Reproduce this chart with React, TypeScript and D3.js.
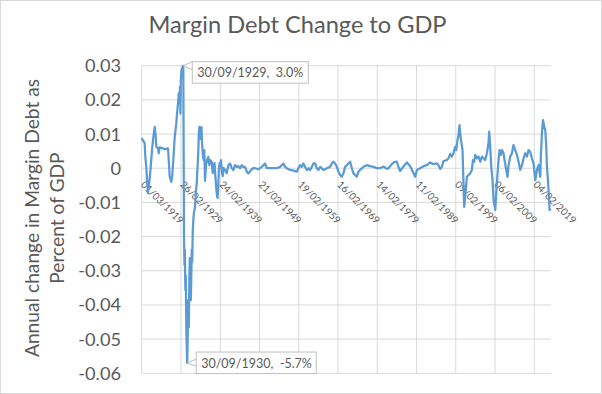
import React from "react";
import * as d3 from "d3";

const title = "Margin Debt Change to GDP";
const yTitleLines = ["Annual change in Margin Debt as", "Percent of GDP"];

// decimal years and annual change values (share of GDP)
const years = [
  1919.16, 1919.92, 1920.08, 1920.33, 1920.51, 1920.76, 1921.02, 1921.4, 1921.78, 1922.04,
  1922.47, 1922.73, 1922.88, 1923.31, 1923.49, 1923.74, 1924.33, 1925.09, 1925.86, 1926.04,
  1926.29, 1926.7, 1926.95, 1927.21, 1927.57, 1927.97, 1928.23, 1928.41, 1928.58, 1928.74,
  1928.92, 1929.02, 1929.12, 1929.3, 1929.5, 1929.745, 1929.83, 1929.93, 1930.04, 1930.14,
  1930.27, 1930.39, 1930.52, 1930.745, 1930.9, 1931.03, 1931.16, 1931.28, 1931.41, 1931.54,
  1931.67, 1931.77, 1931.9, 1932.02, 1932.15, 1932.3, 1932.48, 1932.74, 1932.99, 1933.17,
  1933.37, 1933.55, 1933.72, 1933.85, 1934.02, 1934.2, 1934.38, 1934.55, 1934.75, 1934.95,
  1935.1, 1935.28, 1935.54, 1935.79, 1936.12, 1936.38, 1936.56, 1936.99, 1937.24, 1937.45,
  1937.7, 1937.91, 1938.14, 1938.34, 1938.49, 1938.65, 1938.8, 1938.98, 1939.18, 1939.36,
  1939.56, 1939.79, 1940.0, 1940.38, 1940.81, 1941.22, 1941.65, 1942.08, 1942.49, 1942.92,
  1943.36, 1943.77, 1944.2, 1944.63, 1945.04, 1945.47, 1945.9, 1946.31, 1946.74, 1947.18,
  1947.59, 1948.02, 1948.86, 1949.73, 1950.13, 1950.57, 1951.0, 1951.84, 1952.68, 1953.55,
  1954.39, 1954.82, 1955.23, 1955.66, 1956.09, 1956.93, 1957.77, 1958.64, 1959.05, 1959.48,
  1959.91, 1960.32, 1960.75, 1961.19, 1961.59, 1962.03, 1962.46, 1962.87, 1963.3, 1963.73,
  1964.14, 1964.57, 1965.01, 1965.42, 1966.28, 1967.12, 1967.55, 1967.96, 1968.4, 1968.83,
  1969.24, 1969.67, 1970.1, 1970.51, 1970.94, 1971.78, 1972.22, 1972.65, 1973.06, 1973.49,
  1973.92, 1974.33, 1974.76, 1975.6, 1976.47, 1977.31, 1978.15, 1979.02, 1979.86, 1980.7,
  1981.56, 1981.97, 1982.84, 1983.42, 1984.11, 1984.52, 1984.95, 1985.79, 1986.66, 1987.5,
  1988.34, 1988.77, 1989.21, 1990.05, 1990.89, 1991.75, 1992.59, 1993.43, 1994.3, 1994.71,
  1995.14, 1995.57, 1995.98, 1996.85, 1997.25, 1997.69, 1998.12, 1998.53, 1998.96, 1999.22,
  1999.55, 1999.8, 2000.06, 2000.23, 2000.49, 2000.82, 2001.07, 2001.25, 2001.51, 2001.94,
  2002.35, 2002.78, 2003.21, 2003.47, 2003.8, 2004.06, 2004.49, 2004.9, 2005.33, 2005.76,
  2006.17, 2006.6, 2007.03, 2007.44, 2007.62, 2007.88, 2008.13, 2008.46, 2008.72, 2009.15,
  2009.4, 2009.74, 2009.99, 2010.25, 2010.6, 2010.86, 2011.26, 2011.52, 2011.95, 2012.28,
  2012.54, 2012.97, 2013.4, 2013.81, 2014.24, 2014.68, 2015.08, 2015.52, 2015.95, 2016.36,
  2016.79, 2017.22, 2017.63, 2018.06, 2018.5, 2018.9, 2019.34, 2019.77, 2020.18, 2020.61,
  2020.79, 2021.04, 2021.3, 2021.63, 2021.89, 2022.14, 2022.32, 2022.57, 2022.73, 2022.98,
  2023.3,
];

const values = [
  0.0088, 0.0073, 0.0034, 0.0004, -0.0035, -0.0073, -0.0049, -0.0005, 0.0053, 0.0083,
  0.0121, 0.0092, 0.0063, 0.0058, 0.0044, 0.0061, 0.0059, 0.0056, 0.0058, 0.0024,
  -0.0025, -0.004, -0.002, 0.0024, 0.0092, 0.0131, 0.017, 0.019, 0.0219, 0.02,
  0.0238, 0.016, 0.0258, 0.0287, 0.0293, 0.03, 0.0083, -0.0204, -0.0283, -0.0239,
  -0.0356, -0.0315, -0.0473, -0.057, -0.0473, -0.0386, -0.0465, -0.0327, -0.0263, -0.0312,
  -0.0386, -0.0327, -0.0239, -0.0274, -0.0187, -0.0152, -0.0128, -0.0114, -0.0064, -0.0043,
  0.0001, 0.0045, 0.0105, 0.0121, 0.009, 0.0085, 0.012, 0.0068, 0.0033, 0.0024,
  0.0053, -0.0037, 0.0009, 0.0024, 0.0033, 0.0009, 0.0024, 0.0018, -0.0014, 0.0009,
  0.0015, -0.0023, -0.0058, -0.0081, -0.0087, -0.0049, -0.0005, 0.0015, 0.0006, 0.0024,
  -0.0011, -0.0023, 0.0001, -0.0005, -0.0015, 0.0009, 0.0014, 0.0, -0.0005, 0.0009,
  0.0004, 0.0006, 0.0, 0.0009, 0.0004, 0.0004, -0.001, -0.0015, -0.001, -0.0003,
  0.0, 0.0, -0.0003, 0.0004, 0.0009, 0.0014, 0.0, 0.0, 0.0, 0.0,
  0.0004, 0.0009, 0.0014, 0.0004, 0.0, -0.0005, -0.0007, -0.001, 0.0, 0.0009,
  0.0004, 0.0014, 0.0004, -0.0005, 0.0, -0.0005, 0.0004, 0.0014, 0.0014, 0.0,
  -0.0005, 0.0004, 0.0, -0.0005, 0.0, 0.0004, 0.0014, 0.0019, 0.0014, 0.0004,
  -0.001, -0.002, -0.0025, -0.0015, 0.0004, 0.0014, 0.0019, 0.0, -0.0015, -0.002,
  -0.0025, -0.001, -0.0005, 0.0004, 0.0009, 0.0006, 0.0004, 0.0, 0.0, 0.0005,
  -0.0002, 0.0, 0.0012, 0.0018, 0.0019, 0.0004, -0.0008, 0.0005, 0.0017, 0.0006,
  -0.0014, -0.0025, -0.0005, 0.0, 0.0006, 0.0009, 0.0017, 0.0012, 0.0014, 0.0009,
  -0.0002, 0.0004, 0.0021, 0.0024, 0.0029, 0.0042, 0.0034, 0.0044, 0.0063, 0.0053,
  0.0083, 0.0097, 0.0126, 0.0103, 0.0078, 0.0053, -0.0044, -0.0113, -0.0083, -0.0025,
  -0.002, -0.0015, -0.0005, 0.0024, 0.0019, 0.0039, 0.0029, 0.0034, 0.0019, 0.0034,
  0.0029, 0.0024, 0.0044, 0.0073, 0.0107, 0.0063, 0.0005, -0.0035, -0.0093, -0.0122,
  -0.0073, -0.0015, 0.0024, 0.0053, 0.0039, 0.0053, 0.0044, 0.0024, -0.0005, -0.0025,
  0.0009, 0.0034, 0.0044, 0.0068, 0.0053, 0.0039, 0.0019, -0.0005, 0.0009, 0.0029,
  0.0044, 0.0034, 0.0053, 0.0048, 0.0029, 0.0014, -0.0035, -0.0005, 0.0009, -0.0025,
  0.0044, 0.0102, 0.0141, 0.0121, 0.0112, 0.0063, 0.0004, -0.0035, -0.0064, -0.0122,
  -0.012,
];

const xTickDates = [
  "1919-03-01", "1929-02-26", "1939-02-24", "1949-02-21", "1959-02-19", "1969-02-16",
  "1979-02-14", "1989-02-11", "1999-02-09", "2009-02-06", "2019-02-04",
];
const xDomainDates = ["1919-03-01", "2023-05-07"];
const yTicks = [0.03, 0.02, 0.01, 0, -0.01, -0.02, -0.03, -0.04, -0.05, -0.06];
const yTickLabels = ["0.03", "0.02", "0.01", "0", "-0.01", "-0.02", "-0.03", "-0.04", "-0.05", "-0.06"];
const calloutDates = ["1929-09-30", "1930-09-30"];

const W = 602;
const H = 394;
const FONT = "Lato, 'Open Sans', sans-serif";
const TEXT = "#595959";
const GRID = "#d9d9d9";

const parse = d3.utcParse("%Y-%m-%d");
const fmtDate = d3.utcFormat("%d/%m/%Y");
const fmtPct = d3.format(".1%");

function fromYear(y: number): Date {
  const yr = Math.floor(y);
  const s = Date.UTC(yr, 0, 1);
  const e = Date.UTC(yr + 1, 0, 1);
  return new Date(s + (y - yr) * (e - s));
}

export default function App() {
  const left = 141.7, right = 551, top = 65.7, bottom = 373.3;
  const x = d3.scaleUtc().domain(xDomainDates.map((d) => parse(d) as Date)).range([left, right]);
  const y = d3.scaleLinear().domain([-0.06, 0.03]).range([bottom, top]);
  const pts = years.map((yr, i) => ({ d: fromYear(yr), v: values[i] }));
  const line = d3.line<{ d: Date; v: number }>().x((p) => x(p.d)).y((p) => y(p.v));
  const y0 = y(0);

  const callouts = calloutDates.map((cd, k) => {
    const d = parse(cd) as Date;
    const i = d3.minIndex(pts, (p) => Math.abs(+p.d - +d));
    const p = pts[i];
    const text = `${fmtDate(d)},  ${fmtPct(p.v).replace("\u2212", "-")}`;
    return { px: x(p.d), py: y(p.v), text, k };
  });

  return (
    <svg width={W} height={H} style={{ position: "absolute", left: 0, top: 0 }} fontFamily={FONT}>
      <rect x={0.5} y={0.5} width={W - 1} height={H - 1} fill="#fff" stroke={GRID} />
      <text x={297.5} y={33.3} textAnchor="middle" fontSize={23.6} fontWeight={400} fill={TEXT}>
        {title}
      </text>
      {yTicks.map((t) => (
        <line key={"h" + t} x1={left} x2={right} y1={y(t)} y2={y(t)} stroke={GRID} strokeWidth={1} />
      ))}
      {xTickDates.map((t) => {
        const xx = x(parse(t) as Date);
        return <line key={"v" + t} x1={xx} x2={xx} y1={top} y2={bottom} stroke={GRID} strokeWidth={1} />;
      })}
      {yTicks.map((t, i) => (
        <text key={"yl" + t} x={121} y={y(t)} dy="0.36em" textAnchor="end" fontSize={18.2} fill={TEXT}>
          {yTickLabels[i]}
        </text>
      ))}
      {yTitleLines.map((s, i) => (
        <text
          key={s}
          transform={`translate(${38.5 + i * 25.5},218) rotate(-90)`}
          textAnchor="middle"
          fontSize={19.2}
          fill={TEXT}
        >
          {s}
        </text>
      ))}
      {xTickDates.map((t) => {
        const xx = x(parse(t) as Date);
        return (
          <text key={"xl" + t} transform={`translate(${xx - 1.5},${y0 + 17})rotate(45)`} fontSize={10} fill={TEXT}>
            {fmtDate(parse(t) as Date)}
          </text>
        );
      })}
      <path d={line(pts) || ""} fill="none" stroke="#5B9BD5" strokeWidth={2.25} strokeLinejoin="round" />
      {callouts.map((c) => {
        const bx = c.px + 9;
        const bw = c.k === 0 ? 116 : 120;
        const bh = 21.5;
        const by = c.k === 0 ? c.py - 4 : c.py - 11;
        const tip = c.k === 0
          ? `M${bx},${by} L${c.px},${c.py} L${bx},${by + 8}`
          : `M${bx},${by + 7} L${c.px},${c.py} L${bx},${by + 14}`;
        return (
          <g key={"c" + c.k}>
            <path d={tip} fill="#fff" stroke="#bfbfbf" strokeWidth={1} />
            <rect x={bx} y={by} width={bw} height={bh} fill="#fff" stroke="#bfbfbf" strokeWidth={1} />
            <text x={bx + 5} y={by + 15.5} fontSize={12.5} fill={TEXT} style={{ whiteSpace: "pre" }}>
              {c.text}
            </text>
          </g>
        );
      })}
    </svg>
  );
}
